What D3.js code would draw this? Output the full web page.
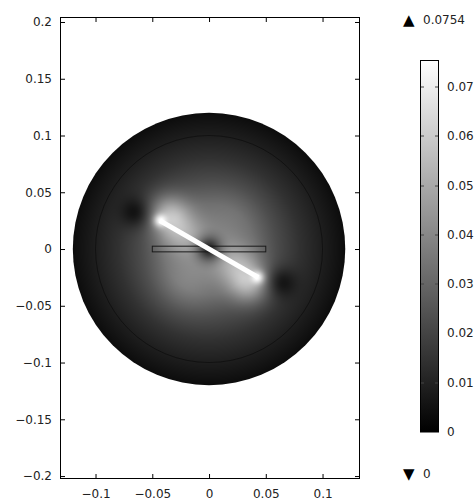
<!DOCTYPE html>
<html>
<head>
<meta charset="utf-8">
<script src="https://cdn.jsdelivr.net/npm/d3@7"></script>
<style>
  body { margin: 0; background: #fff; }
  svg { display: block; }
</style>
</head>
<body>
<script>
// colour range of the plotted quantity
var vMin = 0,
    vMax = 0.0754;

// axis ticks
var xTicks = [-0.1, -0.05, 0, 0.05, 0.1];
var yTicks = [0.2, 0.15, 0.1, 0.05, 0, -0.05, -0.1, -0.15, -0.2];
var xTickLabels = ["\u22120.1", "\u22120.05", "0", "0.05", "0.1"];
var yTickLabels = ["0.2", "0.15", "0.1", "0.05", "0", "\u22120.05", "\u22120.1", "\u22120.15", "\u22120.2"];
var cbTicks = [0, 0.01, 0.02, 0.03, 0.04, 0.05, 0.06, 0.07];
var cbTickLabels = ["0", "0.01", "0.02", "0.03", "0.04", "0.05", "0.06", "0.07"];

// geometry (model units)
var tankRadius = 0.12,
    innerRadius = 0.1;
var boxX = [-0.05, 0.05],
    boxY = [-0.0025, 0.0025];
var rodLength = 0.1,
    rodWidth = 0.0044,
    rodAngle = -30;

// field: radial profile...
var profileR = [0, 0.02, 0.04, 0.06, 0.08, 0.10, 0.11, 0.12];
var profileV = [0.036, 0.036, 0.031, 0.022, 0.0145, 0.0088, 0.0062, 0.0035];
// ...plus local bright / dark spots
var spotX    = [-0.0433, 0.0433, -0.036, 0.036, -0.024, 0.024, 0, -0.0634, 0.0626, -0.022, 0.022];
var spotY    = [0.025, -0.025, 0.031, -0.031, 0.014, -0.014, 0, 0.0316, -0.0291, -0.03, 0.03];
var spotAmp  = [0.028, 0.028, 0.024, 0.024, 0.016, 0.016, -0.030, -0.013, -0.013, 0.007, 0.003];
var spotSize = [0.004, 0.004, 0.012, 0.012, 0.013, 0.013, 0.007, 0.009, 0.009, 0.018, 0.018];

var width = 474,
    height = 500;
var plot = {left: 60, top: 17, right: 360, bottom: 479};

var xScale = d3.scaleLinear()
               .domain([-0.1313, 0.1330])
               .range([plot.left, plot.right]);
var yScale = d3.scaleLinear()
               .domain([0.2044, -0.2026])
               .range([plot.top, plot.bottom]);

var color = d3.scaleLinear()
              .domain([vMin, vMax])
              .range(["#000000", "#ffffff"])
              .clamp(true);

var profile = d3.scaleLinear()
                .domain(profileR)
                .range(profileV)
                .clamp(true);

var svg = d3.select('body')
            .append('svg')
            .attr('width', width)
            .attr('height', height)
            .style('font-family', '"DejaVu Sans", sans-serif')
            .style('font-size', '12px');

// ---- surface image ----
var px0 = Math.floor(xScale(-tankRadius)) - 1,
    px1 = Math.ceil(xScale(tankRadius)) + 1,
    py0 = Math.floor(yScale(tankRadius)) - 1,
    py1 = Math.ceil(yScale(-tankRadius)) + 1;
var cw = px1 - px0, ch = py1 - py0;

var canvas = document.createElement('canvas');
canvas.width = cw;
canvas.height = ch;
var ctx = canvas.getContext('2d');
var img = ctx.createImageData(cw, ch);

for (var j = 0; j < ch; j++) {
  for (var i = 0; i < cw; i++) {
    var mx = xScale.invert(px0 + i + 0.5),
        my = yScale.invert(py0 + j + 0.5);
    var v = profile(Math.sqrt(mx * mx + my * my));
    for (var k = 0; k < spotX.length; k++) {
      var dx = mx - spotX[k], dy = my - spotY[k];
      v += spotAmp[k] * Math.exp(-(dx * dx + dy * dy) / (2 * spotSize[k] * spotSize[k]));
    }
    var c = d3.rgb(color(v));
    var o = (j * cw + i) * 4;
    img.data[o] = c.r;
    img.data[o + 1] = c.g;
    img.data[o + 2] = c.b;
    img.data[o + 3] = 255;
  }
}
ctx.putImageData(img, 0, 0);

svg.append('clipPath')
   .attr('id', 'tank')
   .append('circle')
   .attr('cx', xScale(0))
   .attr('cy', yScale(0))
   .attr('r', xScale(tankRadius) - xScale(0));

svg.append('image')
   .attr('x', px0)
   .attr('y', py0)
   .attr('width', cw)
   .attr('height', ch)
   .attr('href', canvas.toDataURL())
   .attr('clip-path', 'url(#tank)');

// inner (rotating domain) boundary
svg.append('circle')
   .attr('cx', xScale(0))
   .attr('cy', yScale(0))
   .attr('r', xScale(innerRadius) - xScale(0))
   .attr('fill', 'none')
   .attr('stroke', '#000')
   .attr('stroke-opacity', 0.6)
   .attr('stroke-width', 0.7);

// horizontal box outline
svg.append('rect')
   .attr('x', xScale(boxX[0]))
   .attr('y', yScale(boxY[1]))
   .attr('width', xScale(boxX[1]) - xScale(boxX[0]))
   .attr('height', yScale(boxY[0]) - yScale(boxY[1]))
   .attr('fill', 'none')
   .attr('stroke', '#1a1a1a')
   .attr('stroke-width', 1);

// rod
var a = rodAngle * Math.PI / 180;
var ux = Math.cos(a) * rodLength / 2, uy = Math.sin(a) * rodLength / 2;
var nx = -Math.sin(a) * rodWidth / 2, ny = Math.cos(a) * rodWidth / 2;
var rodPts = [[-ux + nx, -uy + ny], [ux + nx, uy + ny], [ux - nx, uy - ny], [-ux - nx, -uy - ny]];
svg.append('polygon')
   .attr('points', rodPts.map(function(p) { return xScale(p[0]) + ',' + yScale(p[1]); }).join(' '))
   .attr('fill', color(vMax));

// ---- axes ----
function styleAxis(g) {
  g.select('.domain').remove();
  g.selectAll('.tick line').attr('stroke', '#000');
  g.selectAll('.tick text').attr('fill', '#222').style('font-size', '12px').style('font-family', '"DejaVu Sans", sans-serif');
}

svg.append('g')
   .attr('transform', 'translate(' + plot.left + ',0)')
   .call(d3.axisLeft(yScale).tickValues(yTicks).tickSize(-5).tickPadding(8)
           .tickFormat(function(d, i) { return yTickLabels[i]; }))
   .call(styleAxis);

svg.append('g')
   .attr('transform', 'translate(' + plot.right + ',0)')
   .call(d3.axisRight(yScale).tickValues(yTicks).tickSize(-5).tickFormat(''))
   .call(styleAxis);

svg.append('g')
   .attr('transform', 'translate(0,' + plot.bottom + ')')
   .call(d3.axisBottom(xScale).tickValues(xTicks).tickSize(-5).tickPadding(10)
           .tickFormat(function(d, i) { return xTickLabels[i]; }))
   .call(styleAxis);

svg.append('g')
   .attr('transform', 'translate(0,' + plot.top + ')')
   .call(d3.axisTop(xScale).tickValues(xTicks).tickSize(-5).tickFormat(''))
   .call(styleAxis);

svg.append('rect')
   .attr('x', plot.left + 0.5)
   .attr('y', plot.top + 0.5)
   .attr('width', plot.right - plot.left - 1)
   .attr('height', plot.bottom - plot.top - 1)
   .attr('fill', 'none')
   .attr('stroke', '#000')
   .attr('shape-rendering', 'crispEdges');

// ---- colour bar ----
var cb = {x: 420, w: 18};
var cbScale = d3.scaleLinear()
                .domain([vMin, vMax])
                .range([432, 60.5]);

var grad = svg.append('linearGradient')
              .attr('id', 'cbgrad')
              .attr('x1', 0).attr('y1', 1)
              .attr('x2', 0).attr('y2', 0);
grad.selectAll('stop')
    .data([vMin, vMax])
    .enter()
    .append('stop')
    .attr('offset', function(d) { return (d - vMin) / (vMax - vMin); })
    .attr('stop-color', function(d) { return color(d); });

svg.append('rect')
   .attr('x', cb.x + 0.5)
   .attr('y', cbScale(vMax))
   .attr('width', cb.w)
   .attr('height', cbScale(vMin) - cbScale(vMax))
   .attr('fill', 'url(#cbgrad)')
   .attr('stroke', '#000')
   .attr('stroke-width', 1);

var cbTick = svg.append('g')
                .selectAll('g')
                .data(cbTicks)
                .enter()
                .append('g')
                .attr('transform', function(d) { return 'translate(0,' + Math.round(cbScale(d)) + ')'; });
cbTick.filter(function(d) { return d > 0; })
      .append('line')
      .attr('x1', cb.x + 1).attr('x2', cb.x + 4)
      .attr('stroke', '#444');
cbTick.filter(function(d) { return d > 0; })
      .append('line')
      .attr('x1', cb.x + cb.w - 3).attr('x2', cb.x + cb.w)
      .attr('stroke', '#444');
cbTick.append('text')
      .attr('x', 447)
      .attr('dy', '0.35em')
      .attr('fill', '#222')
      .text(function(d, i) { return cbTickLabels[i]; });

// max / min markers
svg.append('text').attr('x', 403).attr('y', 20).attr('dy', '0.35em').style('font-size', '15px').attr('fill', '#000').text('\u25B2');
svg.append('text').attr('x', 423).attr('y', 20).attr('dy', '0.35em').attr('fill', '#222').text(String(vMax));
svg.append('text').attr('x', 403).attr('y', 474).attr('dy', '0.35em').style('font-size', '15px').attr('fill', '#000').text('\u25BC');
svg.append('text').attr('x', 423).attr('y', 474).attr('dy', '0.35em').attr('fill', '#222').text(String(vMin));
</script>
</body>
</html>
